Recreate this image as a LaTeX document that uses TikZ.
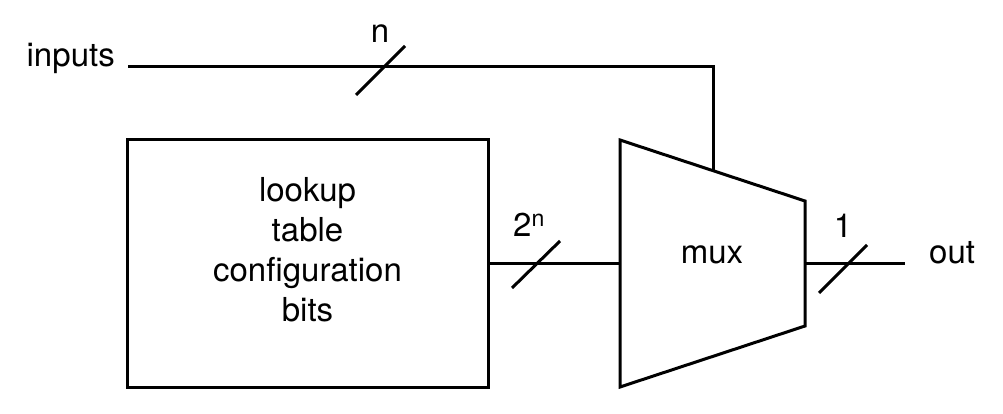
\documentclass[tikz,border=0pt]{standalone}
\usepackage{fontspec}
\setmainfont{TeX Gyre Heros}
\usetikzlibrary{calc}
\begin{document}
\begin{tikzpicture}[x=1pt,y=-1pt,
  wire/.style={line width=3pt},
  slashmark/.style={line width=3pt},
  txt/.style={inner sep=0pt,font=\fontsize{33}{40}\selectfont},
  lutbox/.style={draw,line width=3pt,minimum width=361pt,minimum height=247pt,inner sep=0pt},
  muxshape/.style={line width=3pt,line join=miter}]
\useasboundingbox (0,0) rectangle (1003,414);
% labels
\node[txt,anchor=base east] (inputs) at (115,67) {inputs};
\node[txt,anchor=base] (nlab) at (380,43) {n};
% LUT
\node[lutbox] (lut) at (307.5,263.5) {};
\node[txt,align=center] (luttext) at ($(lut.center)+(0,-13.5)$) {lookup\\table\\configuration\\bits};
% mux
\coordinate (mtl) at (620,140);
\coordinate (mtr) at (805,201);
\coordinate (mbr) at (805,326);
\coordinate (mbl) at (620,387);
\draw[muxshape] (mtl) -- (mtr) -- (mbr) -- (mbl) -- cycle;
\node[txt,anchor=base] (mux) at (712,263) {mux};
\coordinate (mtop) at ($(mtl)!0.5027!(mtr)$);
\coordinate (min) at (620,263);
\coordinate (mout) at (805,263);
% wires
\coordinate (instart) at (128,67);
\coordinate (corner) at (mtop |- instart);
\draw[wire] (instart) -- (corner) -- (mtop);
\draw[wire] (lut.east |- min) -- (min);
\coordinate (outend) at (905,263);
\draw[wire] (mout) -- (outend);
\node[txt,anchor=base west] (out) at (929,263) {out};
% bus slashes
\coordinate (s1) at (384,67);
\draw[slashmark] ($(s1)+(-28,28)$) -- ($(s1)+(21,-21)$);
\coordinate (s2) at (537,263);
\draw[slashmark] ($(s2)+(-25,25)$) -- ($(s2)+(23,-22)$);
\coordinate (s3) at (849,263);
\draw[slashmark] ($(s3)+(-30,30)$) -- ($(s3)+(18,-18)$);
\node[txt,anchor=base west] (twon) at (513,236) {2\textsuperscript{n}};
\node[txt,anchor=base] (one) at (843,237) {1};
\end{tikzpicture}
\end{document}
